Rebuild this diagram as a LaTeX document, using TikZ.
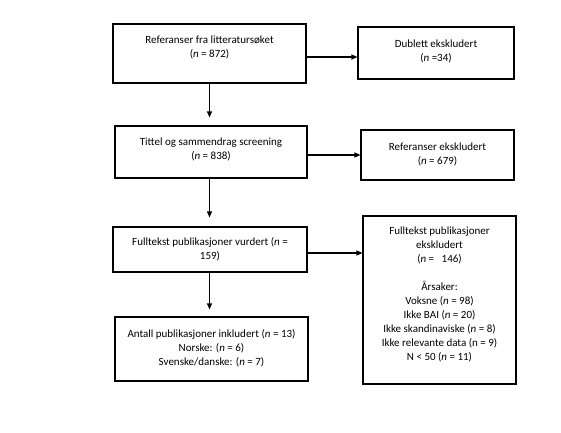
\documentclass[tikz,border=0pt]{standalone}
\usepackage{fontspec}
\setmainfont{Carlito}
\usetikzlibrary{arrows.meta}
\newcommand{\pushup}[1]{\rule[-#1]{0pt}{#1}}

\begin{document}
\begin{tikzpicture}
    	[x=1pt, y=-1pt,
    	box/.style={draw, line width=1.1pt, inner sep=2pt, align=center,
    		font=\fontsize{11pt}{14pt}\selectfont},
    	arr/.style={line width=1.1pt, -{Triangle[length=6pt, width=5pt]}}]
    	\useasboundingbox[fill=white] (0,0) rectangle (561,432);

    	\node (refs) at (209.5,53.5) [box, minimum width=193pt, minimum height=59pt]
    		{Referanser fra litteraturs\o{}ket\\(\textit{n} = 872)\pushup{13pt}};
    	\node (dup) at (436,53) [box, minimum width=156pt, minimum height=52pt]
    		{Dublett ekskludert\\(\textit{n} =34)\pushup{4pt}};
    	\node (screen) at (211,152) [box, minimum width=192pt, minimum height=52pt]
    		{Tittel og sammendrag screening\\(\textit{n} = 838)\pushup{7pt}};
    	\node (refex) at (437.5,155) [box, minimum width=153pt, minimum height=50pt]
    		{Referanser ekskludert\\(\textit{n} = 679)\pushup{2pt}};
    	\node (full) at (210,249.5) [box, minimum width=194pt, minimum height=45pt]
    		{Fulltekst publikasjoner vurdert (\textit{n} =\\159)};
    	\node (fullex) at (439.5,300) [box, minimum width=153pt, minimum height=168pt]
    		{Fulltekst publikasjoner\\ekskludert\\(\textit{n} =\ \ \ 146)\\[14pt]
    		 \AA{}rsaker:\\Voksne (\textit{n} = 98)\\Ikke BAI (\textit{n} = 20)\\
    		 Ikke skandinaviske (\textit{n} = 8)\\Ikke relevante data (n = 9)\\
    		 N < 50 (\textit{n} = 11)\pushup{12pt}};
    	\node (incl) at (211.5,349) [box, minimum width=193pt, minimum height=64pt]
    		{Antall publikasjoner inkludert (\textit{n} = 13)\\Norske: (\textit{n} = 6)\\
    		 Svenske/danske: (\textit{n} = 7)\pushup{3pt}};

    	\draw[arr] (refs.south) -- ([yshift=8pt]screen.north -| refs.south);
    	\draw[arr] (screen.south -| refs.south) -- ([yshift=9pt]full.north -| refs.south);
    	\draw[arr] (full.south -| refs.south) -- ([yshift=7pt]incl.north -| refs.south);

    	\draw[arr] ([yshift=-3.5pt]refs.east) -- ([yshift=-3.5pt]refs.east -| dup.west);
    	\draw[arr] ([yshift=-3pt]screen.east) -- ([yshift=-3pt]screen.east -| refex.west);
    	\draw[arr] ([yshift=-3.5pt]full.east) -- ([yshift=-3.5pt]full.east -| fullex.west);
\end{tikzpicture}
\end{document}
